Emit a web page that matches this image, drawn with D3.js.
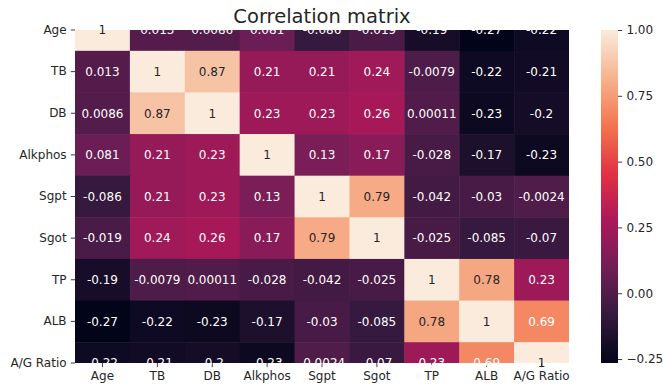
<!DOCTYPE html>
<html>
<head>
<meta charset="utf-8">
<script src="https://cdn.jsdelivr.net/npm/d3@7"></script>
<style>
  html, body { margin: 0; padding: 0; background: #fff; }
  svg { display: block; font-family: "DejaVu Sans", sans-serif; }
</style>
</head>
<body>
<svg id="chart" width="663" height="388"></svg>
<script>
const categories = ["Age", "TB", "DB", "Alkphos", "Sgpt", "Sgot", "TP", "ALB", "A/G Ratio"];
const rowAge     = [1, 0.013, 0.0086, 0.081, -0.086, -0.019, -0.19, -0.27, -0.22];
const rowTB      = [0.013, 1, 0.87, 0.21, 0.21, 0.24, -0.0079, -0.22, -0.21];
const rowDB      = [0.0086, 0.87, 1, 0.23, 0.23, 0.26, 0.00011, -0.23, -0.2];
const rowAlkphos = [0.081, 0.21, 0.23, 1, 0.13, 0.17, -0.028, -0.17, -0.23];
const rowSgpt    = [-0.086, 0.21, 0.23, 0.13, 1, 0.79, -0.042, -0.03, -0.0024];
const rowSgot    = [-0.019, 0.24, 0.26, 0.17, 0.79, 1, -0.025, -0.085, -0.07];
const rowTP      = [-0.19, -0.0079, 0.00011, -0.028, -0.042, -0.025, 1, 0.78, 0.23];
const rowALB     = [-0.27, -0.22, -0.23, -0.17, -0.03, -0.085, 0.78, 1, 0.69];
const rowAGRatio = [-0.22, -0.21, -0.2, -0.23, -0.0024, -0.07, 0.23, 0.69, 1];
const colorbarTicks = [-0.25, 0, 0.25, 0.5, 0.75, 1.0];
const titleText = "Correlation matrix";

const matrix = [rowAge, rowTB, rowDB, rowAlkphos, rowSgpt, rowSgot, rowTP, rowALB, rowAGRatio];
const vmin = -0.265, vmax = 1;

// rocket colormap approximation
const rocketStops = ["#03051a", "#35193e", "#701f57", "#ad1759", "#e13342", "#f37651", "#f6b48f", "#faebdd"];
const rocket = d3.piecewise(d3.interpolateRgb, rocketStops);
const color = d3.scaleSequential(rocket).domain([vmin, vmax]);

const svg = d3.select("#chart");
const L = 75, R = 569, T = 30, B = 363;
const cellH = (B - T) / 8;

const x = d3.scaleBand().domain(categories).range([L, R]);
const y = d3.scaleBand().domain(categories).range([T - cellH / 2, B + cellH / 2]);

svg.append("defs").append("clipPath").attr("id", "clip")
  .append("rect").attr("x", L).attr("y", T).attr("width", R - L).attr("height", B - T);

const cells = [];
matrix.forEach((row, i) => row.forEach((v, j) => cells.push({r: categories[i], c: categories[j], v})));

svg.append("g").attr("clip-path", "url(#clip)")
  .selectAll("rect").data(cells).join("rect")
  .attr("x", d => x(d.c))
  .attr("y", d => y(d.r))
  .attr("width", x.bandwidth() + 0.5)
  .attr("height", y.bandwidth() + 0.5)
  .attr("fill", d => color(d.v));

// axes
const fontSize = 12;
const yAxis = svg.append("g").attr("transform", `translate(${L},0)`)
  .call(d3.axisLeft(y).tickSize(4.2).tickPadding(4.2));
yAxis.select(".domain").remove();
yAxis.selectAll("line").attr("stroke", "#262626").attr("stroke-width", 0.9);
yAxis.selectAll("text").attr("font-size", fontSize).attr("fill", "#262626")
  .attr("font-family", "DejaVu Sans");

const xAxis = svg.append("g").attr("transform", `translate(0,${B})`)
  .call(d3.axisBottom(x).tickSize(4.2).tickPadding(4.2));
xAxis.select(".domain").remove();
xAxis.selectAll("line").attr("stroke", "#262626").attr("stroke-width", 0.9);
xAxis.selectAll("text").attr("font-size", fontSize).attr("fill", "#262626")
  .attr("font-family", "DejaVu Sans");

// annotations
function lum(c) {
  const rgb = d3.rgb(c);
  const f = u => { u /= 255; return u <= 0.03928 ? u / 12.92 : Math.pow((u + 0.055) / 1.055, 2.4); };
  return 0.2126 * f(rgb.r) + 0.7152 * f(rgb.g) + 0.0722 * f(rgb.b);
}
const fmt = v => d3.format(".2~g")(v).replace("\u2212", "-");
svg.append("g").selectAll("text").data(cells).join("text")
  .attr("x", d => x(d.c) + x.bandwidth() / 2)
  .attr("y", d => y(d.r) + y.bandwidth() / 2)
  .attr("dy", "0.36em")
  .attr("text-anchor", "middle")
  .attr("font-size", fontSize)
  .attr("fill", d => lum(color(d.v)) > 0.408 ? "#262626" : "#ffffff")
  .text(d => fmt(d.v));

// title
svg.append("text")
  .attr("x", (L + R) / 2).attr("y", 23)
  .attr("text-anchor", "middle")
  .attr("font-size", 19.5)
  .attr("fill", "#262626")
  .text(titleText);

// colorbar
const cbL = 601, cbW = 17;
const cy = d3.scaleLinear().domain([vmin, vmax]).range([B, T]);
const grad = svg.select("defs").append("linearGradient")
  .attr("id", "cbgrad").attr("x1", 0).attr("y1", 1).attr("x2", 0).attr("y2", 0);
d3.range(0, 1.0001, 0.02).forEach(t => {
  grad.append("stop").attr("offset", t).attr("stop-color", rocket(t));
});
svg.append("rect").attr("x", cbL).attr("y", T).attr("width", cbW).attr("height", B - T)
  .attr("fill", "url(#cbgrad)");
const cbAxis = svg.append("g").attr("transform", `translate(${cbL + cbW},0)`)
  .call(d3.axisRight(cy).tickValues(colorbarTicks).tickSize(4.2).tickPadding(4.2)
    .tickFormat(d => d3.format(".2f")(d).replace("-", "\u2212")));
cbAxis.select(".domain").remove();
cbAxis.selectAll("line").attr("stroke", "#262626").attr("stroke-width", 0.9);
cbAxis.selectAll("text").attr("font-size", fontSize).attr("fill", "#262626")
  .attr("font-family", "DejaVu Sans");
</script>
</body>
</html>
